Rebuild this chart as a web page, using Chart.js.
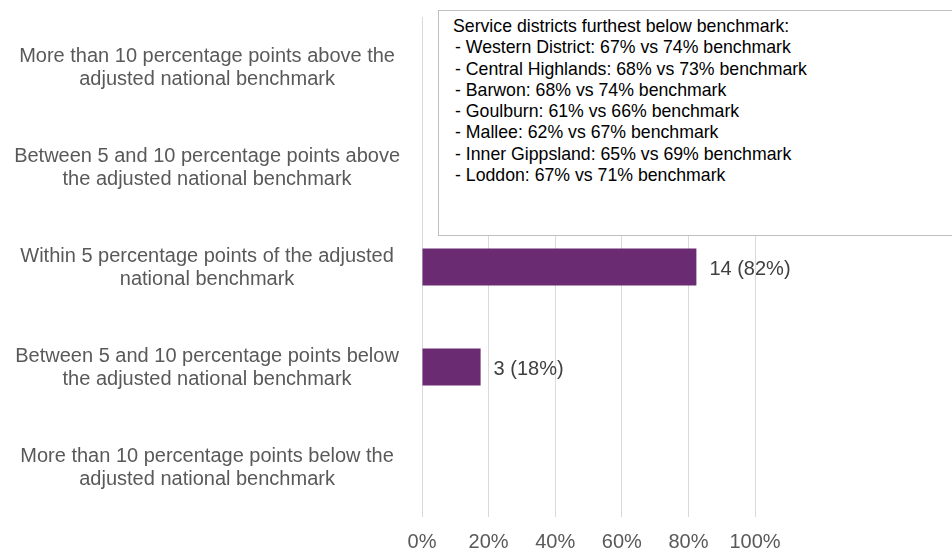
<!DOCTYPE html>
<html>
<head>
<meta charset="utf-8">
<script src="https://cdn.jsdelivr.net/npm/chart.js@4.4.1/dist/chart.umd.min.js"></script>
<style>
  html, body { margin: 0; padding: 0; background: #fff; }
  #wrap { position: relative; width: 952px; height: 550px; overflow: hidden; }
  #chart { position: absolute; left: 0; top: 0; }
  #note {
    position: absolute; left: 438px; top: 10px; width: 540px; height: 226px;
    box-sizing: border-box; border: 1px solid #bfbfbf; background: #fff;
    font-family: "Liberation Sans", Arial, sans-serif; font-size: 17.7px; line-height: 21.3px;
    color: #000; padding: 5px 0 0 14px; white-space: pre;
  }
  #note .item { padding-left: 2px; }
</style>
</head>
<body>
<div id="wrap">
  <canvas id="chart" width="952" height="550"></canvas>
  <div id="note"></div>
</div>
<script>
// ---- data ----
const categories = [
  ["More than 10 percentage points above the", "adjusted national benchmark"],
  ["Between 5 and 10 percentage points above", "the adjusted national benchmark"],
  ["Within 5 percentage points of the adjusted", "national benchmark"],
  ["Between 5 and 10 percentage points below", "the adjusted national benchmark"],
  ["More than 10 percentage points below the", "adjusted national benchmark"]
];
const counts = [0, 0, 14, 3, 0];
const shares = [0, 0, 82.4, 17.6, 0];
const shareLabels = ["", "", "82%", "18%", ""];
const xTicks = [0, 20, 40, 60, 80, 100];
const noteTitle = "Service districts furthest below benchmark:";
const noteItems = [
  "- Western District: 67% vs 74% benchmark",
  "- Central Highlands: 68% vs 73% benchmark",
  "- Barwon: 68% vs 74% benchmark",
  "- Goulburn: 61% vs 66% benchmark",
  "- Mallee: 62% vs 67% benchmark",
  "- Inner Gippsland: 65% vs 69% benchmark",
  "- Loddon: 67% vs 71% benchmark"
];

// ---- note box ----
const note = document.getElementById('note');
const t = document.createElement('div'); t.textContent = noteTitle; note.appendChild(t);
noteItems.forEach(s => { const d = document.createElement('div'); d.className = 'item'; d.textContent = s; note.appendChild(d); });

const FONT = '"Liberation Sans", Arial, sans-serif';
const GREY = '#595959';

const valueLabels = {
  id: 'valueLabels',
  afterDatasetsDraw(chart) {
    const meta = chart.getDatasetMeta(0);
    const ctx = chart.ctx;
    ctx.save();
    ctx.font = '20px ' + FONT;
    ctx.fillStyle = '#404040';
    ctx.textBaseline = 'middle';
    ctx.textAlign = 'left';
    meta.data.forEach((bar, i) => {
      if (!counts[i]) return;
      ctx.fillText(counts[i] + ' (' + shareLabels[i] + ')', bar.x + 13, bar.y + 2);
    });
    ctx.restore();
  }
};

new Chart(document.getElementById('chart'), {
  type: 'bar',
  data: {
    labels: categories,
    datasets: [{
      data: shares,
      backgroundColor: '#6B2B73',
      borderWidth: 0,
      categoryPercentage: 1,
      barPercentage: 0.37
    }]
  },
  options: {
    indexAxis: 'y',
    responsive: false,
    animation: false,
    devicePixelRatio: 1,
    layout: { padding: { left: 0, top: 17, right: 197, bottom: 0 } },
    plugins: { legend: { display: false }, tooltip: { enabled: false } },
    scales: {
      x: {
        min: 0, max: 100,
        afterBuildTicks(scale) { scale.ticks = xTicks.map(v => ({ value: v })); },
        afterFit(scale) { scale.height = 33; scale.paddingLeft = 0; scale.paddingRight = 0; },
        grid: { color: '#d9d9d9', lineWidth: 1, drawTicks: false },
        border: { display: false },
        ticks: {
          padding: 13,
          color: GREY,
          font: { family: FONT, size: 20 },
          callback: v => v + '%'
        }
      },
      y: {
        afterFit(scale) { scale.width = 422; scale.paddingTop = 0; scale.paddingBottom = 0; },
        grid: { display: false, drawTicks: false },
        border: { display: false },
        ticks: {
          padding: 22,
          labelOffset: 1,
          crossAlign: 'center',
          color: GREY,
          font: { family: FONT, size: 20, lineHeight: 1.13 }
        }
      }
    }
  },
  plugins: [valueLabels]
});
</script>
</body>
</html>
